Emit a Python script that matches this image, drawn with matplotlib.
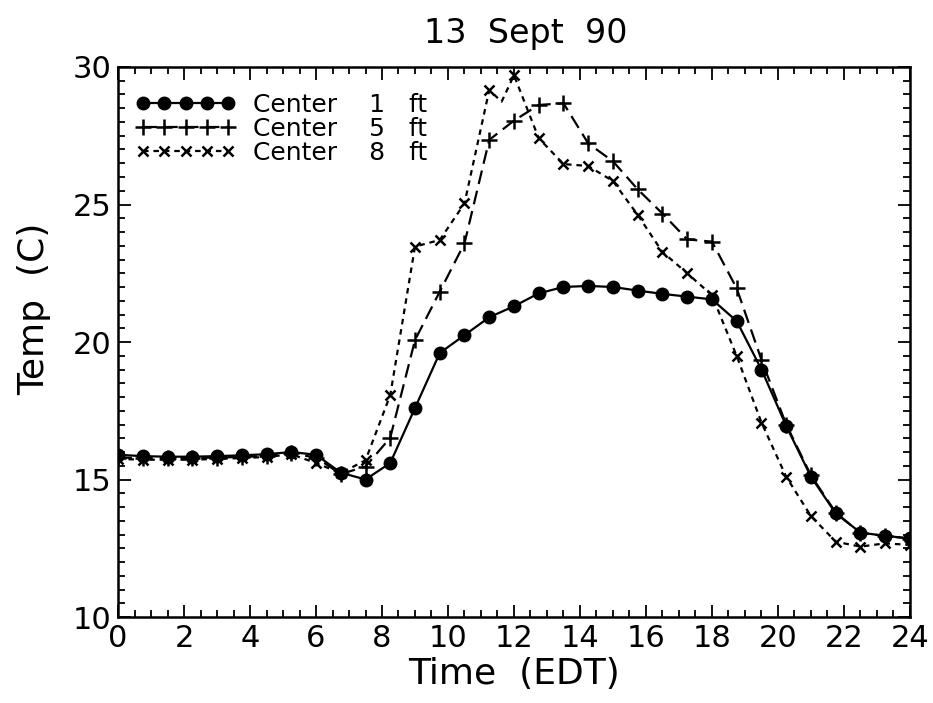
import matplotlib
matplotlib.use("Agg")
import matplotlib.pyplot as plt
from matplotlib.ticker import MultipleLocator

hours = [0.0, 0.75, 1.5, 2.25, 3.0, 3.75, 4.5, 5.25, 6.0, 6.75, 7.5, 8.25,
         9.0, 9.75, 10.5, 11.25, 12.0, 12.75, 13.5, 14.25, 15.0, 15.75,
         16.5, 17.25, 18.0, 18.75, 19.5, 20.25, 21.0, 21.75, 22.5, 23.25, 24.0]

center1 = [15.9, 15.85, 15.83, 15.83, 15.85, 15.88, 15.92, 16.0, 15.9, 15.25,
           15.0, 15.6, 17.6, 19.6, 20.25, 20.9, 21.3, 21.77, 22.0, 22.04,
           22.0, 21.87, 21.75, 21.65, 21.55, 20.76, 19.0, 16.95, 15.1, 13.77,
           13.07, 12.95, 12.86]

center5 = [15.8, 15.78, 15.78, 15.78, 15.8, 15.82, 15.85, 15.95, 15.8, 15.2,
           15.47, 16.52, 20.07, 21.83, 23.59, 27.35, 28.05, 28.62, 28.68, 27.22,
           26.57, 25.55, 24.67, 23.73, 23.65, 21.95, 19.35, 17.0, 15.15, 13.8,
           13.05, 12.95, 12.85]

# center 8 has one unmarked point in the dip near 11.6 h
hours8 = [0.0, 0.75, 1.5, 2.25, 3.0, 3.75, 4.5, 5.25, 6.0, 6.75, 7.5, 8.25,
          9.0, 9.75, 10.5, 11.25, 11.625, 12.0, 12.75, 13.5, 14.25, 15.0, 15.75,
          16.5, 17.25, 18.0, 18.75, 19.5, 20.25, 21.0, 21.75, 22.5, 23.25, 24.0]
center8 = [15.75, 15.72, 15.72, 15.72, 15.75, 15.78, 15.82, 15.92, 15.6, 15.23,
           15.7, 18.07, 23.47, 23.71, 25.04, 29.16, 28.74, 29.7, 27.41, 26.47,
           26.4, 25.85, 24.62, 23.27, 22.5, 21.7, 19.49, 17.07, 15.1, 13.67,
           12.74, 12.56, 12.68, 12.62]
marked8 = [i for i in range(len(hours8)) if hours8[i] != 11.625]

plt.rcParams['font.family'] = 'DejaVu Sans'
plt.rcParams['lines.scale_dashes'] = False

fig = plt.figure(figsize=(9.33, 7.03), dpi=100)
ax = fig.add_axes([0.1265, 0.1223, 0.8488, 0.7824])

ax.plot(hours, center1, '-', color='black', lw=1.6, marker='o', ms=9,
        label='Center    1   ft')
ax.plot(hours, center5, color='black', lw=1.6, dashes=(10, 5), marker='+',
        ms=11, mew=1.8, label='Center    5   ft')
ax.plot(hours8, center8, color='black', lw=1.6, dashes=(4, 3.5), marker='x',
        ms=7, mew=1.8, markevery=marked8, label='Center    8   ft')

ax.set_xlim(0, 24)
ax.set_ylim(10, 30)
ax.xaxis.set_major_locator(MultipleLocator(2))
ax.xaxis.set_minor_locator(MultipleLocator(0.5))
ax.yaxis.set_major_locator(MultipleLocator(5))
ax.yaxis.set_minor_locator(MultipleLocator(0.5))
ax.tick_params(which='both', direction='in', top=True, right=True,
               width=1.3, labelsize=22)
ax.tick_params(which='major', length=9, pad=5)
ax.tick_params(which='minor', length=5)
for s in ax.spines.values():
    s.set_linewidth(1.8)

ax.set_xlabel('Time  (EDT)', fontsize=26, labelpad=3)
ax.set_ylabel('Temp  (C)', fontsize=26)
ax.yaxis.set_label_coords(-0.085, 0.56)
ax.set_title('13  Sept  90', fontsize=24, pad=17, x=0.515)

ax.legend(loc='upper left', bbox_to_anchor=(0.0, 0.985), frameon=False,
          fontsize=18, numpoints=5, handlelength=4.0, handletextpad=0.7,
          labelspacing=0.0, borderaxespad=0.3, borderpad=0.4)

plt.savefig("out.png", dpi=100)
